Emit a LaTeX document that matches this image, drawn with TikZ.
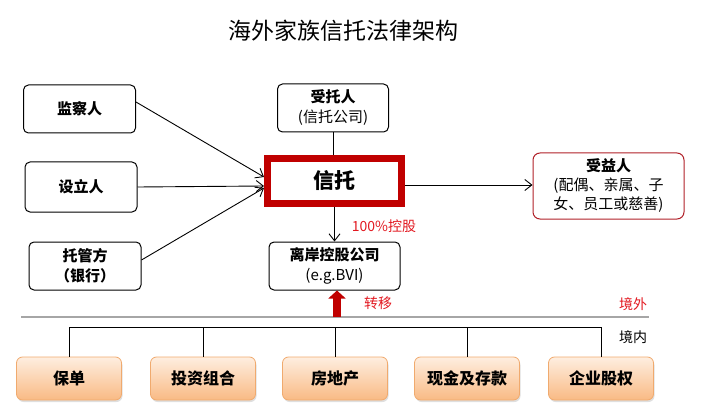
\documentclass[tikz,border=0pt]{standalone}
\usepackage{fontspec}
\setmainfont{Noto Sans CJK SC}
\usetikzlibrary{arrows.meta,shadows}
\definecolor{trustred}{RGB}{192,0,0}
\definecolor{benefred}{RGB}{176,32,40}
\definecolor{notered}{RGB}{226,24,32}
\definecolor{assettop}{RGB}{254,238,224}
\definecolor{assetbot}{RGB}{249,186,132}
\definecolor{assetline}{RGB}{240,170,110}
\tikzset{
	party/.style={draw, rounded corners=5pt, line width=1pt, minimum width=112pt, minimum height=48pt, align=center, font=\fontsize{15}{20}\selectfont},
	asset/.style={draw=assetline, rounded corners=6pt, line width=0.8pt, minimum width=105pt, minimum height=43pt, top color=assettop, bottom color=assetbot, drop shadow={shadow xshift=1pt, shadow yshift=-2pt, opacity=0.25}, font=\fontsize{16}{20}\selectfont\bfseries},
	link/.style={line width=0.9pt, -{Straight Barb[length=7pt,width=11pt]}},
	note/.style={text=notered, font=\fontsize{14}{16}\selectfont}
}
\begin{document}
\begin{tikzpicture}[x=1pt,y=-1pt]
	\useasboundingbox (0,0) rectangle (707,409);
	\node (title) at (343,31) {\fontsize{23}{26}\selectfont 海外家族信托法律架构};
	\node[party] (monitor) at (79.5,109) {\bfseries 监察人};
	\node[party, minimum height=50pt] (settlor) at (81,187) {\bfseries 设立人};
	\node[party] (custodian) at (85,266) {\bfseries 托管方\\\bfseries （银行）};
	\node[party, minimum width=111pt] (trustee) at (333,108) {\bfseries 受托人\\(信托公司)};
	\node[draw=trustred, line width=7pt, minimum width=134pt, minimum height=45pt, font=\fontsize{21}{24}\selectfont\bfseries] (trust) at (334.5,181) {信托};
	\node[party, draw=benefred, rounded corners=7pt, minimum width=151pt, minimum height=66pt, font=\fontsize{15}{19}\selectfont] (benef) at (608.5,186) {\bfseries 受益人\\(配偶、亲属、子\\女、员工或慈善)};
	\node[party, minimum width=131pt] (offshore) at (334.5,266) {\bfseries 离岸控股公司\\(e.g.BVI)};
	\draw[link] ([yshift=7pt]monitor.east) -- ([yshift=4pt]trust.west);
	\draw[link] (settlor.east) -- ([yshift=-5pt]trust.west);
	\draw[link] ([yshift=6pt]custodian.east) -- ([yshift=-7pt]trust.west);
	\draw[line width=0.9pt] (trustee.south) -- (trustee.south |- trust.north);
	\draw[link] ([yshift=-4pt]trust.east) -- ([yshift=-4pt]trust.east -| benef.west);
	\draw[link] (trust.south) -- (offshore.north);
	\node[note] (hold) at (384,226) {100\%控股};
	\draw[gray!70, line width=1.2pt] (21,317) -- (649,317);
	\coordinate (mv) at (337,317);
	\draw[trustred, line width=8pt, -{Triangle[length=8pt,width=17pt]}] (mv) -- (mv |- offshore.south);
	\node[note] (move) at (378,303) {转移};
	\node[note] (abroad) at (633,304) {境外};
	\node[font=\fontsize{14}{16}\selectfont] (home) at (633,337) {境内};
	\foreach \x/\name/\txt in {69/a/保单, 203/b/投资组合, 335/c/房地产, 467/d/现金及存款, 601/e/企业股权}
		\node[asset] (asset\name) at (\x,378.5) {\txt};
	\draw[line width=1pt] (asseta.north) -- ++(0,-29) -| (assete.north);
	\foreach \name in {b,c,d}
		\draw[line width=1pt] (asset\name.north) -- ++(0,-29);
\end{tikzpicture}
\end{document}
